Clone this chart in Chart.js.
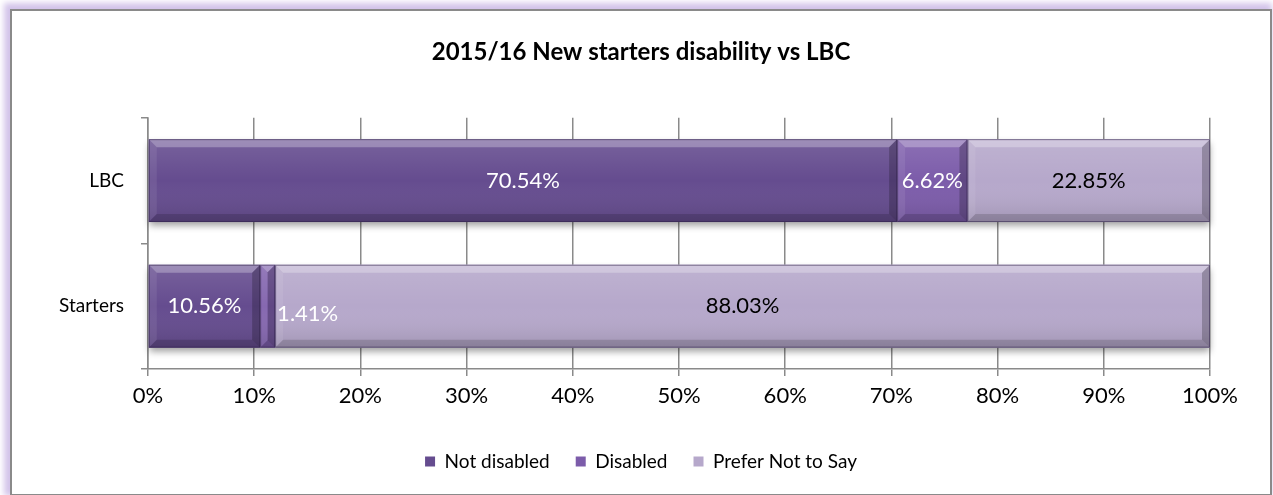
<!DOCTYPE html>
<html>
<head>
<meta charset="utf-8">
<title>2015/16 New starters disability vs LBC</title>
<script src="https://cdn.jsdelivr.net/npm/chart.js@4/dist/chart.umd.min.js"></script>
<style>
    html, body { margin: 0; padding: 0; background: #fff; }
    #frame {
        position: absolute;
        left: 10px;
        top: 9px;
        width: 1258px;
        height: 483px;
        border: 2px solid #8a8a8a;
        box-shadow: -3px -3px 6px 3px #d3c4ea;
        background: #fff;
    }
    #chart { display: block; }
</style>
</head>
<body>
<div id="frame"><canvas id="chart" width="1258" height="483"></canvas></div>
<script>
    "use strict";

    var categories = ['LBC', 'Starters'];
    var notDisabled = [70.54, 10.56];
    var disabled = [6.62, 1.41];
    var preferNotToSay = [22.85, 88.03];

    var seriesNames = ['Not disabled', 'Disabled', 'Prefer Not to Say'];
    var seriesColors = ['#654c8f', '#7c5caa', '#b6a8cb'];
    var labelColors = ['#ffffff', '#ffffff', '#000000'];

    var FONT = 'Lato, Carlito, Calibri, sans-serif';
    Chart.defaults.font.family = FONT;
    Chart.defaults.color = '#000';

    // soft shadow under each full row of bars
    var rowShadow = {
        id: 'rowShadow',
        beforeDatasetsDraw: function (chart) {
            var ctx = chart.ctx;
            var metas = chart.getSortedVisibleDatasetMetas();
            categories.forEach(function (cat, i) {
                var left = Infinity, right = -Infinity, top = 0, h = 0;
                metas.forEach(function (meta) {
                    var el = meta.data[i];
                    if (!el) return;
                    left = Math.min(left, el.base, el.x);
                    right = Math.max(right, el.base, el.x);
                    top = el.y - el.height / 2;
                    h = el.height;
                });
                right = Math.min(right, chart.chartArea.right);
                ctx.save();
                ctx.shadowColor = 'rgba(0,0,0,0.38)';
                ctx.shadowBlur = 7;
                ctx.shadowOffsetY = 4;
                ctx.fillStyle = seriesColors[2];
                ctx.fillRect(left, top, right - left, h);
                ctx.restore();
            });
        }
    };

    // bevelled face on top of each bar
    var bevel = {
        id: 'bevel',
        afterDatasetsDraw: function (chart) {
            var ctx = chart.ctx;
            var area = chart.chartArea;
            chart.getSortedVisibleDatasetMetas().forEach(function (meta) {
                meta.data.forEach(function (el) {
                    var l = Math.min(el.base, el.x);
                    var r = Math.min(Math.max(el.base, el.x), area.right);
                    var t = el.y - el.height / 2;
                    var b = el.y + el.height / 2;
                    var w = r - l;
                    var s = Math.min(8, w / 2, el.height / 2);

                    ctx.save();
                    var g = ctx.createLinearGradient(0, t, 0, b);
                    g.addColorStop(0, 'rgba(255,255,255,0.12)');
                    g.addColorStop(0.5, 'rgba(255,255,255,0)');
                    g.addColorStop(1, 'rgba(0,0,0,0.12)');
                    ctx.fillStyle = g;
                    ctx.fillRect(l, t, w, b - t);

                    function quad(pts, color) {
                        ctx.beginPath();
                        ctx.moveTo(pts[0], pts[1]);
                        ctx.lineTo(pts[2], pts[3]);
                        ctx.lineTo(pts[4], pts[5]);
                        ctx.lineTo(pts[6], pts[7]);
                        ctx.closePath();
                        ctx.fillStyle = color;
                        ctx.fill();
                    }
                    quad([l, t, r, t, r - s, t + s, l + s, t + s], 'rgba(255,255,255,0.28)');
                    quad([l, t, l + s, t + s, l + s, b - s, l, b], 'rgba(255,255,255,0.08)');
                    quad([l, b, l + s, b - s, r - s, b - s, r, b], 'rgba(0,0,0,0.14)');
                    quad([r, t, r, b, r - s, b - s, r - s, t + s], 'rgba(0,0,0,0.22)');

                    ctx.strokeStyle = 'rgba(50,35,75,0.55)';
                    ctx.lineWidth = 1;
                    ctx.strokeRect(l + 0.5, t + 0.5, w - 1, b - t - 1);
                    ctx.restore();
                });
            });
        }
    };

    // value labels in the middle of each segment
    var valueLabels = {
        id: 'valueLabels',
        afterDatasetsDraw: function (chart) {
            var ctx = chart.ctx;
            ctx.save();
            ctx.font = '22px ' + FONT;
            ctx.textBaseline = 'middle';
            chart.getSortedVisibleDatasetMetas().forEach(function (meta) {
                var values = chart.data.datasets[meta.index].data;
                meta.data.forEach(function (el, i) {
                    var text = values[i].toFixed(2) + '%';
                    var l = Math.min(el.base, el.x);
                    var r = Math.min(Math.max(el.base, el.x), chart.chartArea.right);
                    ctx.fillStyle = labelColors[meta.index];
                    if (ctx.measureText(text).width + 8 > r - l) {
                        // too narrow: put the label just past the segment
                        ctx.textAlign = 'left';
                        ctx.fillText(text, r + 2, el.y + 8);
                    } else {
                        ctx.textAlign = 'center';
                        ctx.fillText(text, (l + r) / 2, el.y);
                    }
                });
            });
            ctx.restore();
        }
    };

    var datasets = [notDisabled, disabled, preferNotToSay].map(function (values, i) {
        return {
            label: seriesNames[i],
            data: values,
            backgroundColor: seriesColors[i],
            borderWidth: 0,
            barPercentage: 0.66,
            categoryPercentage: 1
        };
    });

    new Chart(document.getElementById('chart'), {
        type: 'bar',
        data: { labels: categories, datasets: datasets },
        plugins: [rowShadow, bevel, valueLabels],
        options: {
            indexAxis: 'y',
            responsive: false,
            animation: false,
            layout: { padding: { left: 0, right: 0, top: 0, bottom: 13 } },
            scales: {
                x: {
                    stacked: true,
                    min: 0,
                    max: 100,
                    ticks: {
                        stepSize: 10,
                        padding: 7,
                        font: { size: 22 },
                        callback: function (v) { return v + '%'; }
                    },
                    grid: { color: '#8a8a8a', lineWidth: 1.5, tickLength: 7 },
                    border: { color: '#8a8a8a', width: 1.5 },
                    afterFit: function (scale) { scale.height = 57; }
                },
                y: {
                    stacked: true,
                    ticks: { padding: 17, font: { size: 19 } },
                    grid: { drawOnChartArea: false, color: '#8a8a8a', lineWidth: 1.5, tickLength: 7 },
                    border: { color: '#8a8a8a', width: 1.5 },
                    afterFit: function (scale) { scale.width = 136; }
                },
                // empty right-hand gutter so the title and legend stay centred on the frame
                gutter: {
                    type: 'linear',
                    position: 'right',
                    display: true,
                    ticks: { display: false },
                    grid: { display: false },
                    border: { display: false },
                    afterFit: function (scale) { scale.width = 60; }
                }
            },
            plugins: {
                title: {
                    display: true,
                    text: '2015/16 New starters disability vs LBC',
                    font: { size: 24, weight: 'bold' },
                    color: '#000',
                    padding: { top: 27, bottom: 51 }
                },
                legend: {
                    position: 'bottom',
                    labels: {
                        boxWidth: 10,
                        boxHeight: 10,
                        padding: 26,
                        font: { size: 19 },
                        color: '#000'
                    }
                },
                tooltip: { enabled: false }
            }
        }
    });
</script>
</body>
</html>
